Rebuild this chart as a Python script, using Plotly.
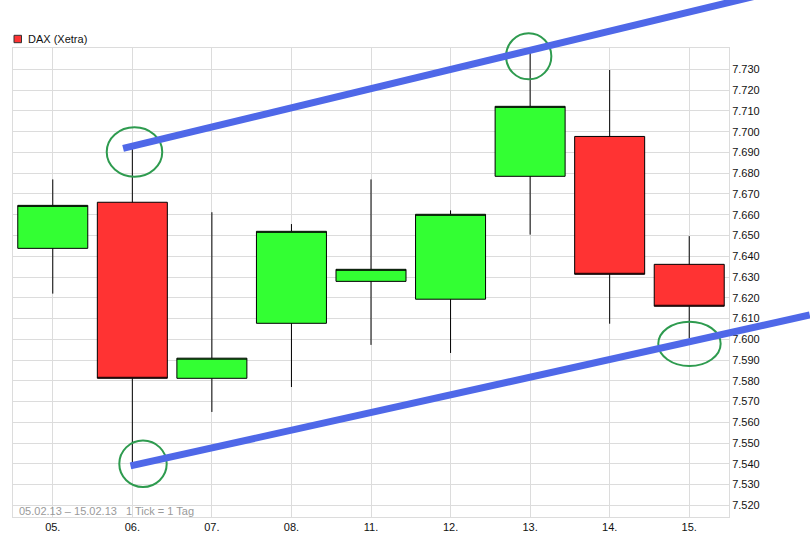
import plotly.graph_objects as go

# ---------------- data ----------------
dates = ["05.02.13", "06.02.13", "07.02.13", "08.02.13", "11.02.13",
         "12.02.13", "13.02.13", "14.02.13", "15.02.13"]
tick_labels = ["05.", "06.", "07.", "08.", "11.", "12.", "13.", "14.", "15."]
open_ = [7643.8, 7666.0, 7581.2, 7607.7, 7627.9, 7619.3, 7678.5, 7697.7, 7636.1]
high = [7677.0, 7692.3, 7661.2, 7655.5, 7677.0, 7662.1, 7738.5, 7729.7, 7649.7]
low = [7622.0, 7538.7, 7565.0, 7577.0, 7597.3, 7593.4, 7650.4, 7607.5, 7600.5]
close = [7664.5, 7581.2, 7590.9, 7652.0, 7633.7, 7660.2, 7712.2, 7631.3, 7615.9]

# trend channel (x = trading-day index, y = index points)
upper_trend_x = [0.884, 9.515]
upper_trend_y = [7692.0, 7771.6]
lower_trend_x = [0.977, 9.515]
lower_trend_y = [7539.0, 7611.7]

# highlighted turning points
circle_x = [1.027, 5.982, 1.134, 8.003]
circle_y = [7690.2, 7736.3, 7540.0, 7597.8]

y_ticks = list(range(7520, 7731, 10))
series_name = "DAX (Xetra)"

# ---------------- styles ----------------
circle_rx = [0.349, 0.285, 0.298, 0.392]
circle_ry = [11.9, 11.1, 11.2, 10.7]

W, H = 810, 550
ML, MR, MT, MB = 0, 0, 0, 33
plot_left_px, plot_right_px, plot_top_px = 13, 729, 48
paper_w, paper_h = W - ML - MR, H - MT - MB
x_dom = [(plot_left_px - ML) / paper_w, (plot_right_px - ML) / paper_w]
y_dom = [0, (paper_h - plot_top_px) / paper_h]
x_range = [-0.5, len(dates) - 0.5]
y_range = [7514.4, 7740.3]
# full-page overlay axes with identical scale (for marks running past the frame)
x_scale = (x_range[1] - x_range[0]) / (x_dom[1] - x_dom[0])
y_scale = (y_range[1] - y_range[0]) / (y_dom[1] - y_dom[0])
x2_range = [x_range[0] - x_dom[0] * x_scale, x_range[0] + (1 - x_dom[0]) * x_scale]
y2_range = [y_range[0], y_range[0] + y_scale]

GRID = "#dcdcdc"
FONT = "Liberation Sans, Arial, sans-serif"
x_idx = list(range(len(dates)))

fig = go.Figure()
fig.add_trace(go.Candlestick(
    x=x_idx, open=open_, high=high, low=low, close=close,
    increasing=dict(fillcolor="#33ff33", line=dict(color="black", width=1)),
    decreasing=dict(fillcolor="#ff3333", line=dict(color="black", width=1)),
    whiskerwidth=0, showlegend=False, hoverinfo="skip",
    xaxis="x", yaxis="y",
))
for tx, ty in [(upper_trend_x, upper_trend_y), (lower_trend_x, lower_trend_y)]:
    fig.add_trace(go.Scatter(
        x=tx, y=ty, mode="lines", showlegend=False, hoverinfo="skip",
        line=dict(color="#4f68e8", width=7),
        xaxis="x2", yaxis="y2",
    ))

for cx, cy, rx, ry in zip(circle_x, circle_y, circle_rx, circle_ry):
    fig.add_shape(type="circle", xref="x2", yref="y2", layer="below",
                  x0=cx - rx, x1=cx + rx, y0=cy - ry, y1=cy + ry,
                  line=dict(color="#2e9b4f", width=2))

# legend (swatch + label)
fig.add_shape(type="rect", xref="paper", yref="paper",
              x0=14 / paper_w, x1=21.5 / paper_w,
              y0=(paper_h - 42.7) / paper_h, y1=(paper_h - 35.3) / paper_h,
              fillcolor="#ff3333", line=dict(color="#333333", width=1))
fig.add_annotation(
    text=series_name, xref="paper", yref="paper",
    x=25.5 / paper_w, y=(paper_h - 39) / paper_h,
    xanchor="left", yanchor="middle", showarrow=False,
    font=dict(family=FONT, size=11, color="#111111"),
)

fig.add_annotation(
    text=f"{dates[0]} \u2013 {dates[-1]}\u00a0\u00a0\u00a01 Tick = 1 Tag",
    xref="paper", yref="paper", x=17 / paper_w, y=6.3 / paper_h,
    xanchor="left", yanchor="middle", showarrow=False,
    font=dict(family=FONT, size=11, color="#9a9a9a"),
)

fig.update_layout(
    width=W, height=H,
    margin=dict(l=ML, r=MR, t=MT, b=MB, pad=0, autoexpand=False),
    paper_bgcolor="white", plot_bgcolor="rgba(0,0,0,0)",
    separators=",.",
    font=dict(family=FONT, size=11, color="#111111"),
    showlegend=False,
    boxgap=0.12, boxgroupgap=0,
    xaxis=dict(domain=x_dom, range=x_range, tickmode="array",
               tickvals=x_idx, ticktext=tick_labels, showgrid=True,
               gridcolor=GRID, gridwidth=1, zeroline=False,
               showline=True, linecolor=GRID, linewidth=1, mirror=True,
               ticks="", rangeslider=dict(visible=False), fixedrange=True,
               tickfont=dict(family=FONT, size=11, color="#111111")),
    yaxis=dict(domain=y_dom, range=y_range, side="right",
               tickmode="array", tickvals=y_ticks, tickformat=",d",
               showgrid=True, gridcolor=GRID, gridwidth=1, zeroline=False,
               showline=True, linecolor=GRID, linewidth=1, mirror=True,
               ticks="", fixedrange=True,
               tickfont=dict(family=FONT, size=11, color="#111111")),
    xaxis2=dict(domain=[0, 1], range=x2_range, anchor="y2", visible=False,
                fixedrange=True),
    yaxis2=dict(domain=[0, 1], range=y2_range, anchor="x2", visible=False,
                fixedrange=True),
)

fig.write_html(
    "out.html",
    config={"displayModeBar": False},
    post_script="document.body.style.margin='0';document.body.style.padding='0';"
                "document.documentElement.style.overflow='hidden';",
)
